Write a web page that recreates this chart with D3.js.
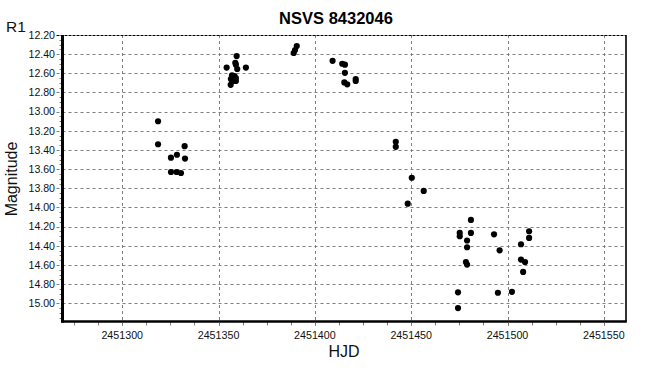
<!DOCTYPE html>
<html><head><meta charset="utf-8">
<script src="https://cdn.jsdelivr.net/npm/d3@7"></script>
<style>body{margin:0;background:#fff}svg{display:block}</style>
</head><body>
<svg id="c" width="659" height="378"></svg>
<script>
const title = "NSVS 8432046";
const hjd = [
  2451318.6, 2451318.6, 2451332.4, 2451325.3, 2451328.4, 2451332.6, 2451325.3, 2451328.2, 2451330.5,
  2451354.2, 2451364.2, 2451356.3, 2451359.4, 2451358.7, 2451359.0, 2451359.7, 2451357.0, 2451358.3, 2451356.4, 2451359.0, 2451357.5, 2451359.0,
  2451390.6, 2451389.7, 2451389.0,
  2451409.2, 2451414.2, 2451415.6, 2451415.6, 2451415.3, 2451416.8, 2451421.2, 2451421.2,
  2451442.0, 2451442.0, 2451450.3, 2451456.5, 2451448.2,
  2451481.0, 2451481.0, 2451475.2, 2451475.2, 2451479.0, 2451479.0, 2451478.4, 2451479.0, 2451474.3, 2451474.3,
  2451493.0, 2451495.9, 2451495.0, 2451502.3, 2451511.2, 2451511.2, 2451507.0, 2451507.0, 2451509.1, 2451508.1
];
const mag = [
  13.10, 13.34, 13.36, 13.48, 13.45, 13.49, 13.63, 13.63, 13.64,
  12.54, 12.54, 12.72, 12.42, 12.49, 12.51, 12.555, 12.62, 12.63, 12.66, 12.65, 12.68, 12.68,
  12.315, 12.357, 12.388,
  12.47, 12.50, 12.51, 12.595, 12.695, 12.715, 12.66, 12.68,
  13.315, 13.367, 13.69, 13.827, 13.96,
  14.13, 14.266, 14.266, 14.30, 14.345, 14.415, 14.57, 14.596, 14.886, 15.05,
  14.28, 14.447, 14.89, 14.88, 14.248, 14.318, 14.384, 14.544, 14.569, 14.673
];
const xTicks = [2451300, 2451350, 2451400, 2451450, 2451500, 2451550];
const yTicks = [12.2, 12.4, 12.6, 12.8, 13.0, 13.2, 13.4, 13.6, 13.8, 14.0, 14.2, 14.4, 14.6, 14.8, 15.0];

const L = 62.5, R = 626, T = 35, B = 321.5;
const x = d3.scaleLinear().domain([2451269, 2451561.5]).range([L, R]);
const y = d3.scaleLinear().domain([12.2, 15.19]).range([T, B]);
const svg = d3.select("#c");
const font = "'Liberation Sans', Arial, sans-serif";

// minor x ticks (every 12.5)
const xMinor = d3.range(2451275, 2451561, 12.5).filter(v => !xTicks.includes(v));
svg.append("g").selectAll("line").data(xMinor).join("line")
  .attr("x1", d => Math.round(x(d)) + 0.5).attr("x2", d => Math.round(x(d)) + 0.5)
  .attr("y1", B).attr("y2", B + 4).attr("stroke", "#808080").attr("stroke-width", 1);

// minor y ticks
const yMinor = d3.range(12.25, 15.19, 0.05).filter(v => Math.abs(Math.round(v * 5) - v * 5) > 0.01);
svg.append("g").selectAll("line").data(yMinor).join("line")
  .attr("x1", L - 3).attr("x2", L)
  .attr("y1", d => Math.round(y(d)) + 0.5).attr("y2", d => Math.round(y(d)) + 0.5)
  .attr("stroke", "#808080").attr("stroke-width", 1);

// grid vertical
svg.append("g").selectAll("line").data(xTicks).join("line")
  .attr("x1", d => Math.round(x(d)) + 0.5).attr("x2", d => Math.round(x(d)) + 0.5)
  .attr("y1", T).attr("y2", B + 7)
  .attr("stroke", "#808080").attr("stroke-width", 1).attr("stroke-dasharray", "3,3");

// grid horizontal
svg.append("g").selectAll("line").data(yTicks.slice(1)).join("line")
  .attr("x1", L - 6).attr("x2", R)
  .attr("y1", d => Math.round(y(d)) + 0.5).attr("y2", d => Math.round(y(d)) + 0.5)
  .attr("stroke", "#808080").attr("stroke-width", 1).attr("stroke-dasharray", "3,3");

// top border (dashed dark)
svg.append("line").attr("x1", L - 6).attr("x2", R).attr("y1", T + 0.5).attr("y2", T + 0.5)
  .attr("stroke", "#000").attr("stroke-width", 1).attr("stroke-dasharray", "3,1");
// right border
svg.append("line").attr("x1", R).attr("x2", R).attr("y1", T).attr("y2", B)
  .attr("stroke", "#000").attr("stroke-width", 1.6);
// left axis
svg.append("line").attr("x1", L).attr("x2", L).attr("y1", T).attr("y2", B + 1)
  .attr("stroke", "#000").attr("stroke-width", 3);
// bottom axis
svg.append("line").attr("x1", L - 1.5).attr("x2", R + 0.8).attr("y1", B).attr("y2", B)
  .attr("stroke", "#000").attr("stroke-width", 2.5);

// y tick labels
svg.append("g").selectAll("text").data(yTicks).join("text")
  .attr("x", 55).attr("y", d => y(d)).attr("dy", "0.36em")
  .attr("text-anchor", "end").attr("font-family", font).attr("font-size", "10.6px").attr("fill", "#111")
  .text(d => d3.format(".2f")(d));

// x tick labels
svg.append("g").selectAll("text").data(xTicks).join("text")
  .attr("x", d => x(d)).attr("y", 339)
  .attr("text-anchor", "middle").attr("font-family", font).attr("font-size", "10.7px").attr("fill", "#111")
  .text(d => d);

// points
svg.append("g").selectAll("path").data(hjd.map((h, i) => [h, mag[i]])).join("path")
  .attr("transform", d => `translate(${x(d[0])},${y(d[1])})`)
  .attr("d", d3.symbol(d3.symbolCircle).size(30)).attr("fill", "#000");

// titles
svg.append("text").attr("x", 336).attr("y", 23.5).attr("text-anchor", "middle")
  .attr("font-family", font).attr("font-weight", "bold").attr("font-size", "16.5px").attr("fill", "#000").text(title);
svg.append("text").attr("x", 6).attr("y", 31.5)
  .attr("font-family", font).attr("font-size", "15.5px").attr("fill", "#111").text("R1");
svg.append("text").attr("transform", "translate(16.5,179) rotate(-90)").attr("text-anchor", "middle")
  .attr("font-family", font).attr("font-size", "16px").attr("fill", "#111").text("Magnitude");
svg.append("text").attr("x", 344).attr("y", 357.3).attr("text-anchor", "middle")
  .attr("font-family", font).attr("font-size", "16px").attr("fill", "#111").text("HJD");
</script>
</body></html>
